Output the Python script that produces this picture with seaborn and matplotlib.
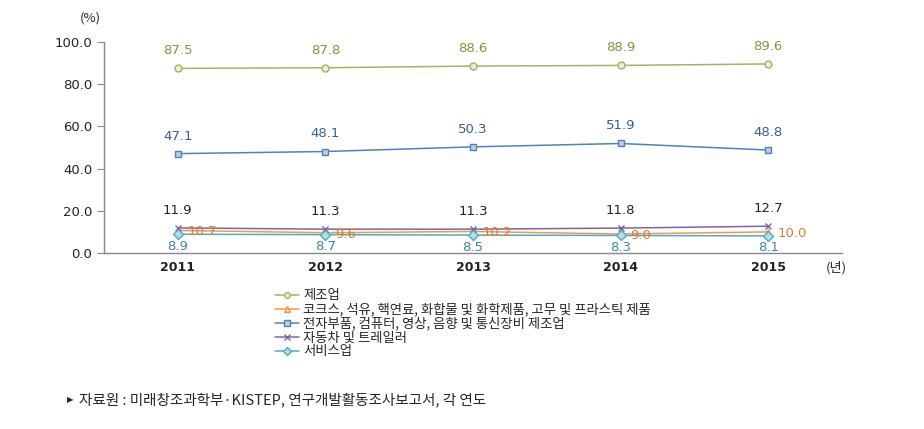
import numpy as np
import pandas as pd
import seaborn as sns
import matplotlib.pyplot as plt
from matplotlib.lines import Line2D

years = ["2011", "2012", "2013", "2014", "2015"]
series_names = [
    "제조업",
    "코크스, 석유, 핵연료, 화합물 및 화학제품, 고무 및 프라스틱 제품",
    "전자부품, 컴퓨터, 영상, 음향 및 통신장비 제조업",
    "자동차 및 트레일러",
    "서비스업",
]
manufacturing = [87.5, 87.8, 88.6, 88.9, 89.6]
coke_chem = [10.7, 9.6, 10.2, 9.0, 10.0]
electronics = [47.1, 48.1, 50.3, 51.9, 48.8]
automobile = [11.9, 11.3, 11.3, 11.8, 12.7]
services = [8.9, 8.7, 8.5, 8.3, 8.1]

colors = ["#A9B060", "#F79646", "#4F81BD", "#8064A2", "#4BACC6"]
label_colors = ["#8E9040", "#E07B30", "#3A5F8F", "#222222", "#3C8A9A"]
markers = ["o", "^", "s", "x", "D"]
marker_faces = ["#E9EDD3", "#FBD5B5", "#B9CDE5", "#8064A2", "#B7DEE8"]
label_pos = ["above", "right", "above", "above", "below"]

values = [manufacturing, coke_chem, electronics, automobile, services]
df = pd.DataFrame({
    "year": np.tile(years, len(series_names)),
    "series": np.repeat(series_names, len(years)),
    "value": np.concatenate(values),
})

sns.set_style("white")
plt.rcParams["font.family"] = ["Noto Sans CJK KR", "DejaVu Sans"]

fig = plt.figure(figsize=(9.24, 4.29), dpi=100)
ax = fig.add_axes([104 / 924, 1 - 253 / 429, (842 - 104) / 924, (253 - 42) / 429])

for i, name in enumerate(series_names):
    sub = df[df["series"] == name]
    sns.lineplot(data=sub, x="year", y="value", ax=ax, color=colors[i],
                 linewidth=1.1, marker=markers[i], markersize=5,
                 markerfacecolor=marker_faces[i], markeredgecolor=colors[i],
                 markeredgewidth=1.0, legend=False)
    for j, v in enumerate(values[i]):
        if label_pos[i] == "above":
            ax.annotate(f"{v:.1f}", (j, v), xytext=(0, 8), textcoords="offset points",
                        ha="center", va="bottom", fontsize=9.5, color=label_colors[i],
                        family=["DejaVu Sans"])
        elif label_pos[i] == "right":
            ax.annotate(f"{v:.1f}", (j, v), xytext=(7, -1), textcoords="offset points",
                        ha="left", va="center", fontsize=9.5, color=label_colors[i],
                        family=["DejaVu Sans"])
        else:
            ax.annotate(f"{v:.1f}", (j, v), xytext=(0, -4), textcoords="offset points",
                        ha="center", va="top", fontsize=9.5, color=label_colors[i],
                        family=["DejaVu Sans"])

ax.set_xlim(-0.5, 4.5)
ax.set_ylim(0, 100)
ax.set_yticks([0, 20, 40, 60, 80, 100])
ax.set_yticklabels([f"{t:.1f}" for t in [0, 20, 40, 60, 80, 100]], family=["DejaVu Sans"])
ax.set_xticks(range(5))
ax.set_xticklabels(years, fontweight="bold", family=["DejaVu Sans"])
ax.set_xticks(np.arange(-0.5, 5, 1), minor=True)
ax.tick_params(axis="x", which="major", length=0, labelsize=9, pad=6, colors="#222222")
ax.tick_params(axis="x", which="minor", length=4, direction="in", color="#888888")
ax.tick_params(axis="y", length=5, direction="out", labelsize=9.5, color="#888888",
               left=True, colors="#222222")
ax.tick_params(axis="y", color="#888888")
ax.set_xlabel("")
ax.set_ylabel("")
for s in ["top", "right"]:
    ax.spines[s].set_visible(False)
for s in ["left", "bottom"]:
    ax.spines[s].set_color("#888888")
    ax.spines[s].set_linewidth(1.0)

fig.text(90 / 924, 1 - 18 / 429, "(%)", fontsize=9.5, ha="center", va="center")
fig.text(836 / 924, 1 - 268 / 429, "(년)", fontsize=9.5, ha="center", va="center")

handles = [Line2D([0], [0], color=colors[i], marker=markers[i], markersize=4,
                  markerfacecolor=marker_faces[i], markeredgecolor=colors[i], linewidth=1.1)
           for i in range(len(series_names))]
fig.legend(handles, series_names, loc="upper left", bbox_to_anchor=(270 / 924, 1 - 283 / 429),
           frameon=False, fontsize=9.6, handlelength=1.8, handletextpad=0.3,
           labelspacing=0.0, borderaxespad=0)

fig.text(67 / 924, 1 - 400 / 429, "▶", fontsize=6, ha="left", va="center",
         family=["DejaVu Sans"])
fig.text(79 / 924, 1 - 400 / 429, "자료원 : 미래창조과학부·KISTEP, 연구개발활동조사보고서, 각 연도",
         fontsize=10.5, ha="left", va="center",
         family=["Noto Sans CJK KR", "DejaVu Sans"])

fig.savefig("out.png", dpi=100)
